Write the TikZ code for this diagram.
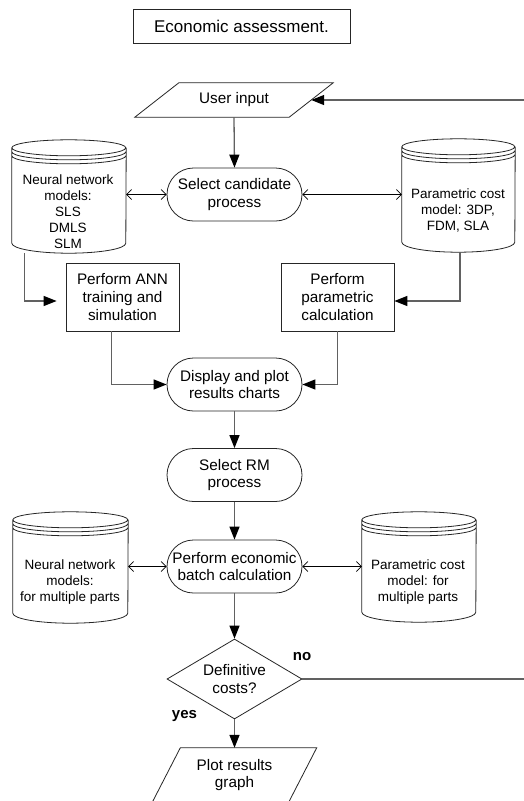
\documentclass[tikz,border=0pt]{standalone}
\usepackage{fontspec}
\setmainfont{Liberation Sans}
\usetikzlibrary{arrows.meta,shapes.misc,shapes.geometric,calc}

\newcommand{\fmain}{\fontsize{15.3}{17.5}\selectfont}
\newcommand{\fcyl}{\fontsize{13.5}{16}\selectfont}

\tikzset{
  shp/.style={draw=black!85, line width=0.8pt},
  titlebox/.style={shp, rectangle, minimum width=217pt, minimum height=34pt, inner sep=0pt, font=\fontsize{17}{20}\selectfont},
  procbox/.style={shp, rectangle, minimum width=113pt, minimum height=68pt, align=center, inner sep=0pt, font=\fontsize{15.3}{18}\selectfont},
  stad/.style={shp, rounded rectangle, minimum width=135pt, minimum height=53pt, align=center, inner sep=0pt, font=\fmain},
  decis/.style={shp, diamond, minimum width=135pt, minimum height=80pt, aspect=1.69, align=center, inner sep=0pt, font=\fmain},
  ioshape/.style={rectangle, draw=none, align=center, inner sep=0pt, font=\fmain},
  cylbox/.style={rectangle, draw=none, inner sep=0pt},
  cyltext/.style={align=center, inner sep=0pt, font=\fcyl},
  lbl/.style={inner sep=0pt, font=\bfseries\fontsize{15}{17}\selectfont},
  flow/.style={draw=black!62, line width=1.3pt, -{Triangle[length=13pt,width=10pt,color=black]}},
  flowline/.style={draw=black!62, line width=1.3pt},
  dbl/.style={draw=black, line width=0.7pt, {Straight Barb[length=5pt,width=10pt]}-{Straight Barb[length=5pt,width=10pt]}}
}

% #1 node name, #2 x radius
\newcommand{\dbcyl}[2]{%
  \draw[shp] ([yshift=-8pt]#1.north west) arc[start angle=180,end angle=-180,x radius=#2pt,y radius=8pt]
    ([yshift=-12pt]#1.north west) arc[start angle=180,end angle=360,x radius=#2pt,y radius=8pt]
    ([yshift=-16pt]#1.north west) arc[start angle=180,end angle=360,x radius=#2pt,y radius=8pt]
    ([yshift=-8pt]#1.north west) -- ([yshift=10pt]#1.south west)
    arc[start angle=180,end angle=360,x radius=#2pt,y radius=10pt] -- ([yshift=-8pt]#1.north east);
}

\begin{document}
\begin{tikzpicture}[x=1pt,y=1pt]
\useasboundingbox (0,0) rectangle (524,-801);
\fill[white] (0,0) rectangle (524,-801);
\clip (0,0) rectangle (524,-801);

% title
\node[titlebox] (title) at (241.5,-26) {Economic assessment.};

% user input (parallelogram)
\node[ioshape, minimum width=154pt, minimum height=34pt] (ui) at (234,-100) {User input};
\draw[shp] ([xshift=22pt]ui.north west) -- ([xshift=22pt]ui.north east)
  -- ([xshift=-22pt]ui.south east) -- ([xshift=-22pt]ui.south west) -- cycle;

% select candidate
\node[stad] (sc) at (234.5,-194.5) {Select candidate\\process};

% top cylinders
\node[cylbox, minimum width=114pt, minimum height=113pt] (nnA) at (69,-196.5) {};
\dbcyl{nnA}{57}
\node[cyltext] (nnAt) at (68,-211.5) {Neural network\\models:\\SLS\\DMLS\\SLM};

\node[cylbox, minimum width=113pt, minimum height=113pt] (pcA) at (458.5,-195.5) {};
\dbcyl{pcA}{56.5}
\node[cyltext] (pcAt) at (458,-210) {Parametric cost\\model: 3DP,\\FDM, SLA};

% process boxes
\node[procbox] (pann) at (122.5,-297) {Perform ANN\\training and\\simulation};
\node[procbox] (ppc) at (337.5,-297) {Perform\\parametric\\calculation};

% display
\node[stad] (disp) at (234.5,-384.5) {Display and plot\\results charts};
\node[stad] (rm) at (234.5,-475) {Select RM\\process};
\node[stad] (pe) at (234.5,-566.5) {Perform economic\\batch calculation};

% bottom cylinders
\node[cylbox, minimum width=115pt, minimum height=111pt] (nnB) at (70.5,-567.5) {};
\dbcyl{nnB}{57.5}
\node[cyltext] (nnBt) at (70,-582) {Neural network\\models:\\for multiple parts};

\node[cylbox, minimum width=114pt, minimum height=110pt] (pcB) at (419,-567) {};
\dbcyl{pcB}{57}
\node[cyltext] (pcBt) at (418,-582) {Parametric cost\\model: for\\multiple parts};

% decision
\node[decis] (dec) at (234.5,-679) {Definitive\\costs?};
\node[lbl] (no) at (302,-657) {no};
\node[lbl] (yes) at (184.5,-716) {yes};

% plot results graph
\node[ioshape, minimum width=136pt, minimum height=54pt] (pg) at (234.5,-775) {Plot results\\graph};
\draw[shp] ([xshift=14pt]pg.north west) -- ([xshift=14pt]pg.north east)
  -- ([xshift=-14pt]pg.south east) -- ([xshift=-14pt]pg.south west) -- cycle;

% free ends on right edge
\coordinate (rtop) at (530,-100);
\coordinate (rbot) at (530,-679);

% connectors
\draw[flow] (rtop) -- (ui.east);
\draw[flow] (ui.south) -- (sc.north);
\draw[dbl] (nnA.east |- sc.west) -- (sc.west);
\draw[dbl] (sc.east) -- (pcA.west |- sc.east);
\draw[flow] ([xshift=13pt]nnA.south west) |- ([xshift=-9pt,yshift=-4pt]pann.west);
\draw[flow] ([xshift=1.5pt]pcA.south) |- ([yshift=-4pt]ppc.east);
\draw[flow] ([xshift=-11pt]pann.south) |- (disp.west);
\draw[flow] (ppc.south) |- (disp.east);
\draw[flow] (disp.south) -- (rm.north);
\draw[flow] (rm.south) -- (pe.north);
\draw[dbl] (nnB.east |- pe.west) -- (pe.west);
\draw[dbl] (pe.east) -- (pcB.west |- pe.east);
\draw[flow] (pe.south) -- (dec.north);
\draw[flowline] (dec.east) -- (rbot);
\draw[flow] (dec.south) -- (pg.north);
\end{tikzpicture}
\end{document}
